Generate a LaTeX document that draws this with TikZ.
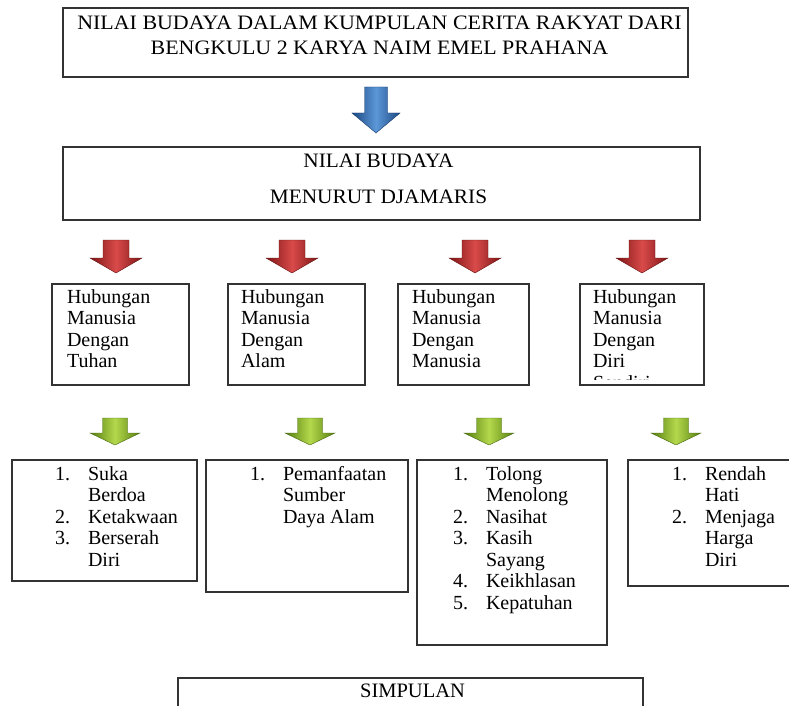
\documentclass[tikz,border=0pt]{standalone}
\usepackage{fontspec}
\setmainfont{Liberation Serif}

\definecolor{biruTua}{HTML}{1C4883}
\definecolor{biruMuda}{HTML}{5C98D8}
\definecolor{merahTua}{HTML}{7E1515}
\definecolor{merahMuda}{HTML}{D94A4A}
\definecolor{hijauTua}{HTML}{557F10}
\definecolor{hijauMuda}{HTML}{B4D84C}

\newcommand{\nomor}[1]{\makebox[33pt][l]{#1}}

\begin{document}
\begin{tikzpicture}[x=1pt, y=-1pt,
  every node/.style={font=\fontsize{20}{21.5}\selectfont, inner sep=0pt, outer sep=0pt},
  box/.style={draw=black!80, line width=1.3pt, rectangle, anchor=north west},
  txt/.style={anchor=base west},
  judultxt/.style={anchor=base, font=\fontsize{20.5}{23}\selectfont},
  panahbiru/.style={left color=biruTua, right color=biruTua, middle color=biruMuda, draw=biruTua!80!black, line width=.4pt},
  panahmerah/.style={left color=merahTua, right color=merahTua, middle color=merahMuda, draw=merahTua!80!black, line width=.4pt},
  panahhijau/.style={left color=hijauTua, right color=hijauTua, middle color=hijauMuda, draw=hijauTua!80!black, line width=.4pt},
  pics/dnarrow/.style args={#1/#2/#3/#4/#5}{code={
    \shade[#1] (-#2,0) -- (#2,0) -- (#2,#4) -- (#3,#4) -- (0,#5) -- (-#3,#4) -- (-#2,#4) -- cycle;
  }}]
  \clip (0,0) rectangle (789,706);

  % judul dan nilai budaya
  \node[box, minimum width=625pt, minimum height=69pt] (judul) at (63,8) {};
  \node[judultxt] (judultext) at ([xshift=4pt,yshift=-22pt]judul.north)
    {\scalebox{1.07}[1]{\begin{tabular}[t]{@{}c@{}}NILAI BUDAYA DALAM KUMPULAN CERITA RAKYAT DARI\\[1.5pt] BENGKULU 2 KARYA NAIM EMEL PRAHANA\end{tabular}}};
  \pic at (376,87) {dnarrow=panahbiru/11.5/24/26/46};

  \node[box, minimum width=637pt, minimum height=73pt] (nilai) at (63,147) {};
  \node[judultxt] (nilaitext) at ([xshift=-3pt,yshift=-20pt]nilai.north)
    {\scalebox{1.04}[1]{\begin{tabular}[t]{@{}c@{}}NILAI BUDAYA\\[13.5pt] MENURUT DJAMARIS\end{tabular}}};

  % hubungan
  \foreach \cx in {116,292,475,642}
    \pic at (\cx,240) {dnarrow=panahmerah/13/26/18/33};

  \node[box, minimum width=137pt, minimum height=101pt] (hubA) at (52,284) {};
  \node[box, minimum width=137pt, minimum height=101pt] (hubB) at (228,284) {};
  \node[box, minimum width=131pt, minimum height=101pt] (hubC) at (398,284) {};
  \node[box, minimum width=124pt, minimum height=101pt] (hubD) at (580,284) {};
  \node[txt] (tA) at ([xshift=15pt,yshift=-19pt]hubA.north west)
    {\begin{tabular}[t]{@{}l@{}}Hubungan\\Manusia\\Dengan\\Tuhan\end{tabular}};
  \node[txt] (tB) at ([xshift=13pt,yshift=-19pt]hubB.north west)
    {\begin{tabular}[t]{@{}l@{}}Hubungan\\Manusia\\Dengan\\Alam\end{tabular}};
  \node[txt] (tC) at ([xshift=14pt,yshift=-19pt]hubC.north west)
    {\begin{tabular}[t]{@{}l@{}}Hubungan\\Manusia\\Dengan\\Manusia\end{tabular}};
  \begin{scope}
    \clip (hubD.north west) rectangle ([yshift=6pt]hubD.south east);
    \node[txt] (tD) at ([xshift=13pt,yshift=-19pt]hubD.north west)
      {\begin{tabular}[t]{@{}l@{}}Hubungan\\Manusia\\Dengan\\Diri\\Sendiri\end{tabular}};
  \end{scope}

  % isi nilai
  \foreach \cx in {115,310,489,676}
    \pic at (\cx,418) {dnarrow=panahhijau/12.5/25/15/27};

  \node[box, minimum width=185pt, minimum height=121pt] (isiA) at (12,460) {};
  \node[box, minimum width=202pt, minimum height=132pt] (isiB) at (206,460) {};
  \node[box, minimum width=190pt, minimum height=185pt] (isiC) at (417,460) {};
  \node[box, minimum width=170pt, minimum height=126pt] (isiD) at (628,460) {};
  \node[txt] (lA) at ([xshift=43pt,yshift=-20pt]isiA.north west)
    {\begin{tabular}[t]{@{}l@{}}\nomor{1.}Suka\\\nomor{}Berdoa\\\nomor{2.}Ketakwaan\\\nomor{3.}Berserah\\\nomor{}Diri\end{tabular}};
  \node[txt] (lB) at ([xshift=44pt,yshift=-20pt]isiB.north west)
    {\begin{tabular}[t]{@{}l@{}}\nomor{1.}Pemanfaatan\\\nomor{}Sumber\\\nomor{}Daya Alam\end{tabular}};
  \node[txt] (lC) at ([xshift=36pt,yshift=-20pt]isiC.north west)
    {\begin{tabular}[t]{@{}l@{}}\nomor{1.}Tolong\\\nomor{}Menolong\\\nomor{2.}Nasihat\\\nomor{3.}Kasih\\\nomor{}Sayang\\\nomor{4.}Keikhlasan\\\nomor{5.}Kepatuhan\end{tabular}};
  \node[txt] (lD) at ([xshift=44pt,yshift=-20pt]isiD.north west)
    {\begin{tabular}[t]{@{}l@{}}\nomor{1.}Rendah\\\nomor{}Hati\\\nomor{2.}Menjaga\\\nomor{}Harga\\\nomor{}Diri\end{tabular}};

  % simpulan
  \node[box, minimum width=465pt, minimum height=60pt] (simpulan) at (178,678) {};
  \node[judultxt] (simpulantext) at ([xshift=2pt,yshift=-19pt]simpulan.north) {SIMPULAN};
\end{tikzpicture}
\end{document}
